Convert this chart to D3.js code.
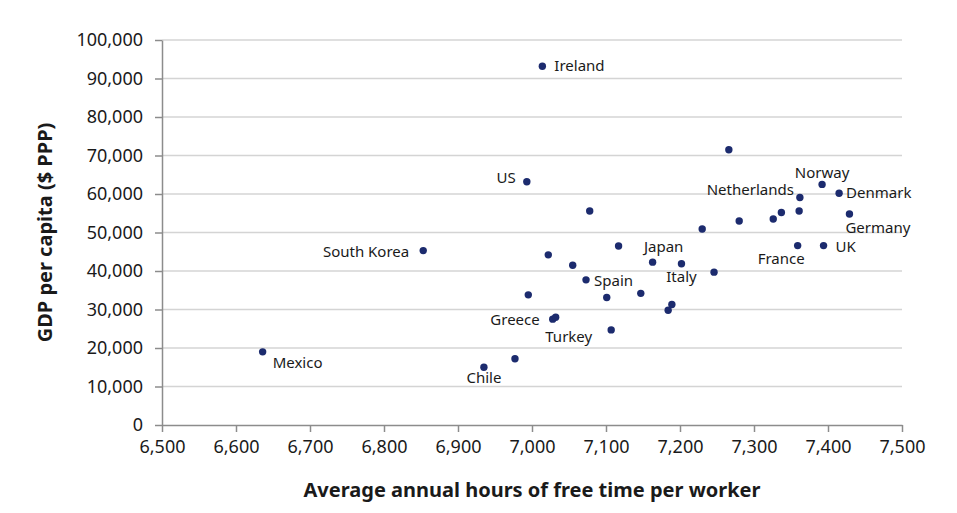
<!DOCTYPE html>
<html>
<head>
<meta charset="utf-8">
<script src="https://cdn.jsdelivr.net/npm/d3@7"></script>
<style>
  body { margin: 0; background: #fff; }
  text { font-family: "Noto Sans", sans-serif; }
</style>
</head>
<body>
<div id="chart"></div>
<script>
// Data
const countries = ["Ireland", "US", "", "", "South Korea", "", "", "", "Japan", "Italy",
  "", "Spain", "", "", "", "", "", "Greece", "", "Turkey", "", "Chile", "Mexico",
  "", "Norway", "Denmark", "Netherlands", "", "", "", "", "Germany", "France", "UK"];
const hours = [7014, 6993, 7078, 7230, 6853, 7117, 7022, 7055, 7163, 7202,
  7246, 7073, 6995, 7101, 7147, 7189, 7184, 7028, 7032, 7107, 6977, 6935, 6636,
  7266, 7392, 7415, 7362, 7361, 7337, 7326, 7280, 7429, 7359, 7394];
const gdp = [93200, 63200, 55600, 50900, 45300, 46500, 44200, 41500, 42300, 41900,
  39700, 37700, 33800, 33100, 34200, 31300, 29800, 27500, 28000, 24700, 17200, 15000, 19000,
  71500, 62500, 60200, 59100, 55600, 55200, 53500, 53000, 54800, 46600, 46600];
const xTicks = [6500, 6600, 6700, 6800, 6900, 7000, 7100, 7200, 7300, 7400, 7500];
const yTicks = [0, 10000, 20000, 30000, 40000, 50000, 60000, 70000, 80000, 90000, 100000];

// Where each country label sits next to its dot
const labelPlacement = {
  "Ireland": { dx: 12, dy: 0, anchor: "start" },
  "US": { dx: -11, dy: -4, anchor: "end" },
  "South Korea": { dx: -14, dy: 1, anchor: "end" },
  "Japan": { dx: 11, dy: -15, anchor: "middle" },
  "Italy": { dx: 0, dy: 13, anchor: "middle" },
  "Spain": { dx: 8, dy: 1, anchor: "start" },
  "Greece": { dx: -13, dy: 1, anchor: "end" },
  "Turkey": { dx: -19, dy: 7, anchor: "end" },
  "Chile": { dx: 0, dy: 10, anchor: "middle" },
  "Mexico": { dx: 10, dy: 11, anchor: "start" },
  "Norway": { dx: 0, dy: -12, anchor: "middle" },
  "Denmark": { dx: 7, dy: 0, anchor: "start" },
  "Netherlands": { dx: -6, dy: -8, anchor: "end" },
  "Germany": { dx: -4, dy: 14, anchor: "start" },
  "France": { dx: 7, dy: 13, anchor: "end" },
  "UK": { dx: 12, dy: 1, anchor: "start" },
};

const data = countries.map((c, i) => ({ country: c, hours: hours[i], gdp: gdp[i] }));

const dimensions = {
  width: 957,
  height: 513,
  margin: { top: 40, right: 55, bottom: 88, left: 162 },
};
dimensions.innerWidth = dimensions.width - dimensions.margin.left - dimensions.margin.right;
dimensions.innerHeight = dimensions.height - dimensions.margin.top - dimensions.margin.bottom;

const svg = d3
  .select("#chart")
  .append("svg")
  .attr("width", dimensions.width)
  .attr("height", dimensions.height);

const graph = svg
  .append("g")
  .attr("transform", `translate(${dimensions.margin.left}, ${dimensions.margin.top})`);

const xScale = d3.scaleLinear().domain([6500, 7500]).range([0, dimensions.innerWidth]);
const yScale = d3.scaleLinear().domain([0, 100000]).range([dimensions.innerHeight, 0]);

// Horizontal gridlines
graph
  .append("g")
  .selectAll("line")
  .data(yTicks.filter((d) => d > 0))
  .join("line")
  .attr("x1", 0)
  .attr("x2", dimensions.innerWidth)
  .attr("y1", (d) => yScale(d))
  .attr("y2", (d) => yScale(d))
  .attr("stroke", "#d4d4d4")
  .attr("stroke-width", 1.5);

// Axes
const fmt = d3.format(",");
const xAxis = graph
  .append("g")
  .attr("transform", `translate(0, ${dimensions.innerHeight})`)
  .call(d3.axisBottom(xScale).tickValues(xTicks).tickFormat(fmt).tickSize(7).tickSizeOuter(0).tickPadding(8));

const yAxis = graph
  .append("g")
  .call(d3.axisLeft(yScale).tickValues(yTicks).tickFormat(fmt).tickSize(7).tickSizeOuter(0).tickPadding(12));

[xAxis, yAxis].forEach((ax) => {
  ax.select(".domain").attr("stroke", "#8c8c8c").attr("stroke-width", 1.5);
  ax.selectAll(".tick line").attr("stroke", "#8c8c8c").attr("stroke-width", 1.5);
  ax.selectAll(".tick text")
    .attr("fill", "#1a1a1a")
    .style("font-family", "'Noto Sans', sans-serif")
    .style("font-size", "18px");
});

// Dots
graph
  .append("g")
  .selectAll("circle")
  .data(data)
  .join("circle")
  .attr("cx", (d) => xScale(d.hours))
  .attr("cy", (d) => yScale(d.gdp))
  .attr("r", 3.7)
  .attr("fill", "#1c2b6e");

// Country labels
graph
  .append("g")
  .selectAll("text")
  .data(data.filter((d) => d.country))
  .join("text")
  .attr("x", (d) => xScale(d.hours) + labelPlacement[d.country].dx)
  .attr("y", (d) => yScale(d.gdp) + labelPlacement[d.country].dy)
  .attr("dy", "0.35em")
  .attr("text-anchor", (d) => labelPlacement[d.country].anchor)
  .attr("fill", "#1a1a1a")
  .style("font-size", "15px")
  .text((d) => d.country);

// Axis titles
graph
  .append("text")
  .attr("x", dimensions.innerWidth / 2)
  .attr("y", dimensions.innerHeight + 72)
  .attr("text-anchor", "middle")
  .attr("fill", "#1a1a1a")
  .style("font-size", "20px")
  .style("font-weight", "bold")
  .text("Average annual hours of free time per worker");

graph
  .append("text")
  .attr("transform", "rotate(-90)")
  .attr("x", -dimensions.innerHeight / 2)
  .attr("y", -110)
  .attr("text-anchor", "middle")
  .attr("fill", "#1a1a1a")
  .style("font-size", "20px")
  .style("font-weight", "bold")
  .text("GDP per capita ($ PPP)");
</script>
</body>
</html>
